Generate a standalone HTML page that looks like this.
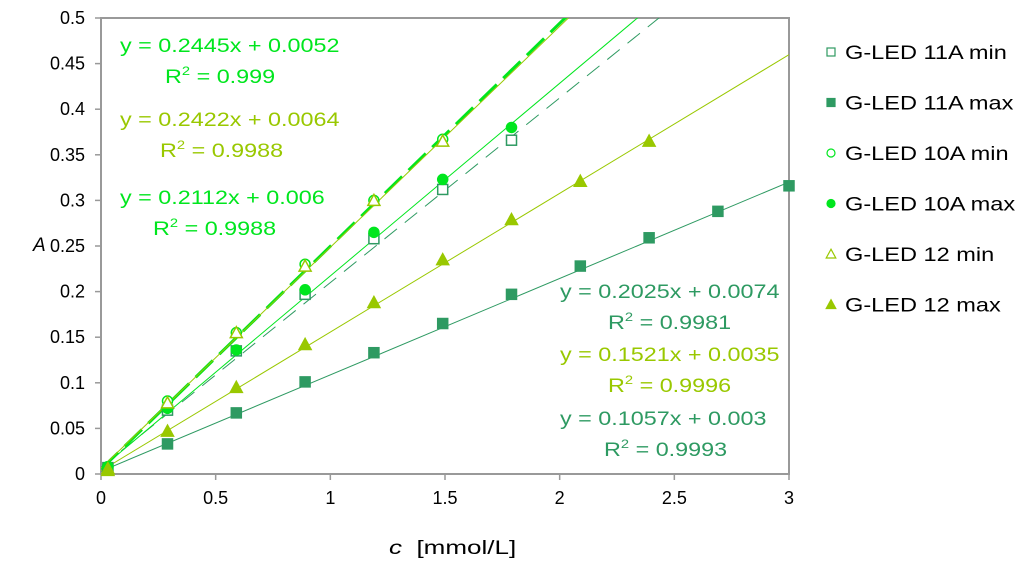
<!DOCTYPE html>
<html><head><meta charset="utf-8"><style>
body{margin:0;background:#fff;}
svg text{font-family:"Liberation Sans",Arial,sans-serif;white-space:pre;}
</style></head><body>
<svg width="1024" height="568" xmlns="http://www.w3.org/2000/svg">
<g id="plot"></g>
</svg>
<script>
const xTicks=[0,0.5,1,1.5,2,2.5,3];
const xTickLabels=["0","0.5","1","1.5","2","2.5","3"];
const yTicks=[0,0.05,0.1,0.15,0.2,0.25,0.3,0.35,0.4,0.45,0.5];
const yTickLabels=["0","0.05","0.1","0.15","0.2","0.25","0.3","0.35","0.4","0.45","0.5"];
const x11min=[0.03,0.29,0.59,0.89,1.19,1.49,1.79];
const y11min=[0.007,0.07,0.135,0.197,0.258,0.312,0.366];
const x11max=[0.03,0.29,0.59,0.89,1.19,1.49,1.79,2.09,2.39,2.69,3.0];
const y11max=[0.005,0.033,0.067,0.101,0.133,0.165,0.197,0.228,0.259,0.288,0.316];
const x10min=[0.03,0.29,0.59,0.89,1.19,1.49];
const y10min=[0.008,0.08,0.155,0.23,0.3,0.367];
const x10max=[0.03,0.29,0.59,0.89,1.19,1.49,1.79];
const y10max=[0.008,0.072,0.136,0.202,0.265,0.323,0.38];
const x12min=[0.03,0.29,0.59,0.89,1.19,1.49];
const y12min=[0.006,0.078,0.155,0.228,0.3,0.365];
const x12max=[0.03,0.29,0.59,0.89,1.19,1.49,1.79,2.09,2.39];
const y12max=[0.004,0.047,0.095,0.142,0.188,0.235,0.279,0.321,0.365];
const slopes=[0.2025,0.1057,0.2445,0.2112,0.2422,0.1521];
const intercepts=[0.0074,0.003,0.0052,0.006,0.0064,0.0035];

const X0=101,X1=789,Y0=474,Y1=18;
const sx=v=>X0+(v/3)*(X1-X0);
const sy=v=>Y0-(v/0.5)*(Y0-Y1);
const NS="http://www.w3.org/2000/svg";
const svg=document.querySelector('svg');
function mk(tag,attrs,parent){const e=document.createElementNS(NS,tag);for(const k in attrs)e.setAttribute(k,attrs[k]);(parent||svg).appendChild(e);return e;}
function stext(x,y,k,size,fill,parent){return mk('text',{x:0,y:0,transform:`translate(${x},${y}) scale(${k},1)`,'font-size':size,fill},parent);}
const DG="#2e9a62",BG="#00e61e",YG="#99c800";

let f=mk('rect',{x:X0,y:Y1,width:X1-X0,height:Y0-Y1,fill:'none',stroke:'#999','stroke-width':2});


xTicks.forEach((t,i)=>{
 let l=mk('line',{x1:sx(t),x2:sx(t),y1:Y0,y2:Y0+6,stroke:'#999','stroke-width':1.5});
 
 
 let tx=mk('text',{x:sx(t),y:Y0+30,'text-anchor':'middle','font-size':18});tx.textContent=xTickLabels[i];
 
 
});
yTicks.forEach((t,i)=>{
 let l=mk('line',{x1:X0-6,x2:X0,y1:sy(t),y2:sy(t),stroke:'#999','stroke-width':1.5});
 
 
 let tx=mk('text',{x:X0-16,y:sy(t)+6,'text-anchor':'end','font-size':18});tx.textContent=yTickLabels[i];
 
 
});
let yt=mk('text',{x:33,y:251,'font-size':19,'font-style':'italic'});yt.textContent='A';


let xt=stext(389,554,1.37,19,'#000');xt.innerHTML='<tspan font-style="italic">c</tspan>  [mmol/L]';



const defs=mk('defs',{});const cp=mk('clipPath',{id:'cp'},defs);mk('rect',{x:X0,y:Y1,width:X1-X0,height:Y0-Y1},cp);
const g=mk('g',{'clip-path':'url(#cp)'});
const lineStyles=[[DG,1,'16 10'],[DG,1,''],[BG,3,'24 9'],[BG,1,''],[YG,1,''],[YG,1,'']];
slopes.forEach((m,i)=>{
 const b=intercepts[i];
 let l=mk('line',{x1:sx(0),y1:sy(b),x2:sx(3),y2:sy(m*3+b),stroke:lineStyles[i][0],'stroke-width':lineStyles[i][1],'stroke-dasharray':lineStyles[i][2]},g);
 
 
});
function marker(shape,filled,color,x,y,parent){
 let e;const fill=filled?color:'#fff',sw=1.5;
 if(shape==='sq') e=mk('rect',{x:x-5,y:y-5,width:10,height:10,fill,stroke:color,'stroke-width':sw},parent);
 else if(shape==='ci') e=mk('circle',{cx:x,cy:y,r:5,fill,stroke:color,'stroke-width':sw},parent);
 else e=mk('polygon',{points:`${x},${y-6} ${x+6},${y+5} ${x-6},${y+5}`,fill,stroke:color,'stroke-width':sw},parent);
 return e;
}
const series=[[x11min,y11min,'sq',false,DG],[x11max,y11max,'sq',true,DG],[x10min,y10min,'ci',false,BG],[x10max,y10max,'ci',true,BG],[x12min,y12min,'tr',false,YG],[x12max,y12max,'tr',true,YG]];
series.forEach(s=>{s[0].forEach((xv,j)=>{
 let e=marker(s[2],s[3],s[4],sx(xv),sy(s[1][j]));
 
 
});});

const eqs=[["y = 0.2445x + 0.0052","0.999",BG,120,52,165,83],["y = 0.2422x + 0.0064","0.9988",YG,120,126,160,157],["y = 0.2112x + 0.006","0.9988",BG,120,204,153,235],
["y = 0.2025x + 0.0074","0.9981",DG,560,298,608,329],["y = 0.1521x + 0.0035","0.9996",YG,560,361,608,392],["y = 0.1057x + 0.003","0.9993",DG,560,425,604,456]];
eqs.forEach(q=>{
 let a=stext(q[3],q[4],1.23,19,q[2]);a.textContent=q[0];
 
 
 let r=stext(q[5],q[6],1.23,19,q[2]);r.innerHTML='R<tspan dy="-8" font-size="12">2</tspan><tspan dy="8"> = '+q[1]+'</tspan>';
 
 
});

const legNames=["G-LED 11A min","G-LED 11A max","G-LED 10A min","G-LED 10A max","G-LED 12 min","G-LED 12 max"];
legNames.forEach((n,i)=>{
 const y=52+i*50.5;
 const s=series[i];
 const gg=mk('g',{});
 
 
 marker(s[2],s[3],s[4],831,y,gg).setAttribute('transform',`translate(831,${y}) scale(0.8) translate(-831,${-y})`);
 let t=stext(845,y+7,1.24,19,'#000',gg);t.textContent=n;
});
</script>
</body></html>
